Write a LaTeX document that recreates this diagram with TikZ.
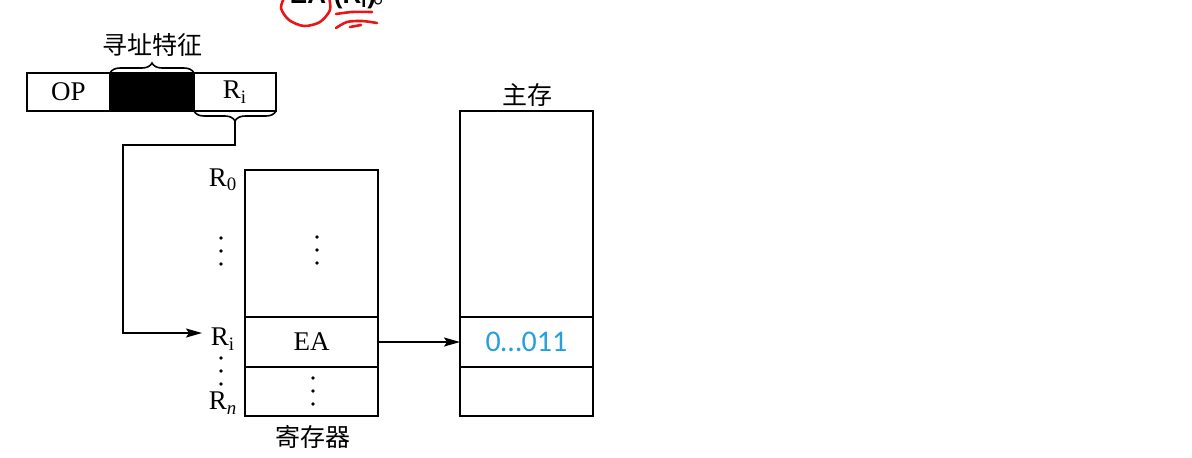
\documentclass[tikz,border=0pt]{standalone}
\usepackage{fontspec}
\setmainfont{Liberation Serif}
\newfontfamily\cjk{Noto Sans CJK SC}
\newfontfamily\numfont{Carlito}
\newfontfamily\notefont{Liberation Sans}
\usetikzlibrary{arrows.meta,decorations.pathreplacing}
\definecolor{valblue}{RGB}{38,160,218}
\definecolor{penred}{RGB}{232,22,22}

\begin{document}
\begin{tikzpicture}[x=0.5pt,y=-0.5pt,
  cell/.style={draw,line width=0.9pt,inner sep=0pt,outer sep=0pt,minimum width=66.5pt},
  lbl/.style={font=\fontsize{13.5}{16}\selectfont},
  cjklbl/.style={font=\cjk\fontsize{12.5}{15}\selectfont},
  arr/.style={line width=0.8pt,-{Stealth[length=8pt,width=4.5pt,inset=1.5pt]}},
  brc/.style={line width=0.8pt,decorate,decoration={brace,amplitude=5pt}},
  pen/.style={penred,line width=1.3pt,line cap=round}]
\useasboundingbox (0,0) rectangle (1192,457);

% cropped note at the top
\node[font=\notefont\bfseries\fontsize{13}{15}\selectfont,anchor=base] (noteea) at (308,3) {EA};
\node[font=\notefont\bfseries\fontsize{13}{15}\selectfont,anchor=base] (noteri) at (355,3) {(R\textsubscript{i})};
\node[font=\cjk\fontsize{13}{15}\selectfont,anchor=base] (notedot) at (386,3) {。};
\draw[pen] plot[smooth] coordinates {(285,-4) (281,8) (289,20) (304,26) (320,22) (330,10) (329,-3)};
\draw[pen] plot[smooth] coordinates {(336,14) (352,12) (372,12)};
\draw[pen] plot[smooth] coordinates {(336,28) (347,22) (362,21) (377,23)};
\draw[pen] (350,27) -- (361,25);

% instruction word
\node[cell,lbl,minimum width=41.5pt,minimum height=19pt] (op) at (68.5,92) {OP};
\node[cell,fill=black,minimum width=42pt,minimum height=19pt] (mode) at (152,92) {};
\node[cell,lbl,minimum width=41pt,minimum height=19pt] (ri) at (235,92) {R\textsubscript{i}};
\draw[brc] (mode.north west) -- (mode.north east);
\node[cjklbl] (feat) at (152,45) {寻址特征};
\draw[brc] (ri.south east) -- (ri.south west);
\coordinate (tip) at (235,121);
\coordinate (bend) at (123,145);
\coordinate (rin) at (202,333);

% register file
\node[cell,minimum height=73.5pt] (regtop) at (311.5,243.5) {};
\node[cell,lbl,minimum height=25pt] (regea) at (311.5,342) {EA};
\node[cell,minimum height=24.5pt] (regbot) at (311.5,391.5) {};
\node[cjklbl] (reglbl) at (313,437) {寄存器};
\node[lbl] (r0) at (223,180) {R\textsubscript{0}};
\node[lbl] (rsel) at (223,339) {R\textsubscript{i}};
\node[lbl] (rn) at (223,403) {R\textsubscript{\itshape n}};
\foreach \y in {238,251,264} \fill (221,\y) circle (0.9pt);
\foreach \y in {237,250,263} \fill (317,\y) circle (0.9pt);
\foreach \y in {358,371,384} \fill (221,\y) circle (0.9pt);
\foreach \y in {378,391,404} \fill (313,\y) circle (0.9pt);

% main memory
\node[cell,minimum height=103pt] (memtop) at (526.5,214) {};
\node[cell,minimum height=25pt,font=\numfont\fontsize{15}{18}\selectfont,text=valblue] (memval) at (526.5,342) {0…011};
\node[cell,minimum height=24.5pt] (membot) at (526.5,391.5) {};
\node[cjklbl] (memlbl) at (527,95) {主存};

\draw[arr] (tip) |- (bend) |- (rin);
\draw[arr] (regea.east) -- (memval.west);
\end{tikzpicture}
\end{document}
